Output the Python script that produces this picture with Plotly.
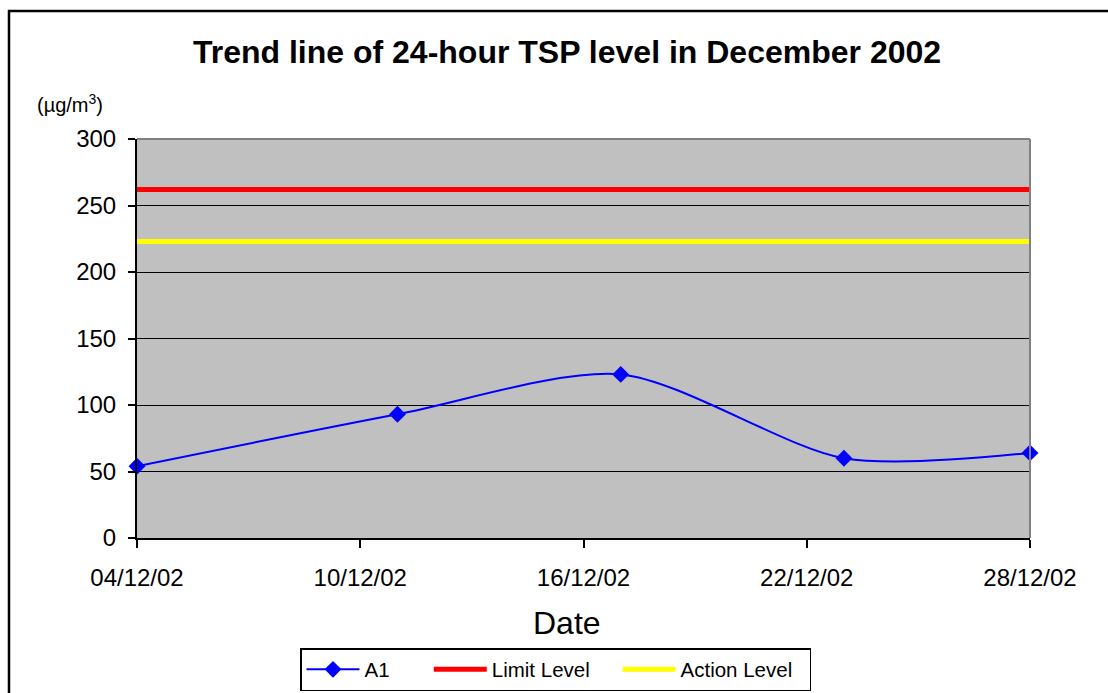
import plotly.graph_objects as go

dates = ["2002-12-04", "2002-12-11", "2002-12-17", "2002-12-23", "2002-12-28"]
a1_values = [54, 93, 123, 60, 64]
limit_level = 262
action_level = 223
tick_dates = ["2002-12-04", "2002-12-10", "2002-12-16", "2002-12-22", "2002-12-28"]
tick_labels = ["04/12/02", "10/12/02", "16/12/02", "22/12/02", "28/12/02"]
y_ticks = [0, 50, 100, 150, 200, 250, 300]

W, H = 1108, 693
L, R, T, B = 137, 78, 139, 155
pw, ph = W - L - R, H - T - B

def px_x(p):
    return (p - L) / pw

def px_y(p):
    return (H - B - p) / ph

FONT = "Liberation Sans, Arial, sans-serif"
NB = "\u00a0"

fig = go.Figure()
fig.add_trace(go.Scatter(
    x=dates, y=a1_values, name="A1" + NB * 6, mode="lines+markers",
    line=dict(color="#0000FF", width=2, shape="spline", smoothing=0.8),
    marker=dict(symbol="diamond", size=13, color="#0000FF"),
    cliponaxis=False, hoverinfo="skip",
))
fig.add_trace(go.Scatter(
    x=[dates[0], dates[-1]], y=[limit_level, limit_level], name="Limit Level" + NB * 4,
    mode="lines", line=dict(color="#FF0000", width=5), hoverinfo="skip",
))
fig.add_trace(go.Scatter(
    x=[dates[0], dates[-1]], y=[action_level, action_level], name="Action Level" + NB * 2,
    mode="lines", line=dict(color="#FFFF00", width=5), hoverinfo="skip",
))

fig.update_layout(
    width=W, height=H,
    margin=dict(l=L, r=R, t=T, b=B, autoexpand=False),
    paper_bgcolor="white", plot_bgcolor="#C0C0C0",
    font=dict(family=FONT, color="black"),
    title=dict(text="<b>Trend line of 24-hour TSP level in December 2002</b>",
               x=px_x(567), xref="paper", xanchor="center",
               y=1 - 52 / H, yanchor="middle", font=dict(size=32)),
    showlegend=True,
    legend=dict(orientation="h", xref="container", yref="container",
                x=300 / W, y=1 - 648 / H, xanchor="left", yanchor="top",
                bordercolor="black", borderwidth=1.5, font=dict(size=20.5),
                bgcolor="white", itemwidth=53),
    xaxis=dict(type="date", range=[dates[0], dates[-1]], tickvals=tick_dates,
               ticktext=tick_labels, ticks="outside", ticklen=8, tickcolor="black",
               tickwidth=2, showline=True, linecolor="black", linewidth=2,
               showgrid=False, zeroline=False, tickfont=dict(size=24),
               ticklabelstandoff=9, automargin=False),
    yaxis=dict(range=[0, 300], tickvals=y_ticks, ticks="outside", ticklen=7,
               tickcolor="black", tickwidth=2, showline=True, linecolor="black",
               linewidth=2, showgrid=True, gridcolor="black", gridwidth=1,
               zeroline=False, tickfont=dict(size=24), ticklabelstandoff=7,
               automargin=False),
    shapes=[
        dict(type="line", xref="paper", yref="paper", x0=0, x1=1, y0=1, y1=1,
             line=dict(color="#808080", width=2), layer="above"),
        dict(type="line", xref="paper", yref="paper", x0=1, x1=1, y0=0, y1=1,
             line=dict(color="#808080", width=2), layer="above"),
        dict(type="rect", xref="paper", yref="paper", x0=px_x(9), x1=px_x(1300),
             y0=px_y(900), y1=px_y(11), line=dict(color="black", width=2.5),
             layer="above"),
    ],
    annotations=[
        dict(text="Date", xref="paper", yref="paper", x=px_x(567), y=px_y(623),
             xanchor="center", yanchor="middle", showarrow=False, font=dict(size=32)),
        dict(text="(\u00b5g/m<sup>3</sup>)", xref="paper", yref="paper", x=px_x(35),
             y=px_y(103), xanchor="left", yanchor="middle", showarrow=False,
             font=dict(size=20)),
    ],
)

fig.write_html("out.html", config={"displayModeBar": False},
               post_script="document.body.style.margin='0';")
